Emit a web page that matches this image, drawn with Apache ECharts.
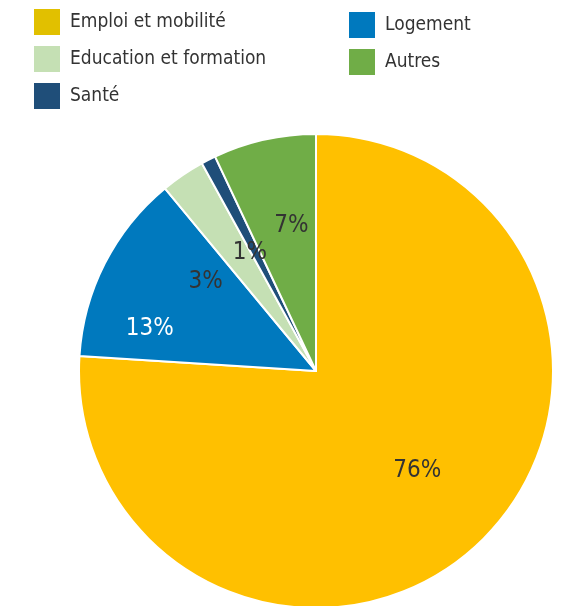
<!DOCTYPE html>
<html><head><meta charset="utf-8">
<script src="https://cdn.jsdelivr.net/npm/echarts@6/dist/echarts.min.js"></script>
<style>html,body{margin:0;padding:0;background:#fff}#c{width:570px;height:606px}</style>
</head><body><div id="c"></div>
<script>
const categories = ['Emploi et mobilité', 'Logement', 'Education et formation', 'Santé', 'Autres'];
const values = [76, 13, 3, 1, 7];
const sliceColors = ['#FFC000', '#0079BE', '#C5E0B4', '#1F4E79', '#70AD47'];
const legendColors = ['#E1C000', '#0079BE', '#C5E0B4', '#1F4E79', '#70AD47'];
const labelColors = ['#333333', '#ffffff', '#333333', '#333333', '#333333'];
const labelOffsets = [[18, 11], [-58, 13], [-42, 11], [-11, -10], [2, -27]];

const FONT = '"DejaVu Sans Condensed", "Liberation Sans Narrow", sans-serif';
const chart = echarts.init(document.getElementById('c'));
function legendData(names) {
  return names.map(n => ({ name: n, itemStyle: { color: legendColors[categories.indexOf(n)], borderWidth: 0 } }));
}
const legendCommon = {
  orient: 'vertical', itemWidth: 26, itemHeight: 26, itemGap: 11, icon: 'rect', padding: 0,
  itemStyle: { borderWidth: 0 },
  textStyle: { fontFamily: FONT, fontSize: 19, color: '#333', padding: [0, 0, 0, 5] },
  selectedMode: false
};
chart.setOption({
  animation: false,
  legend: [
    Object.assign({}, legendCommon, { left: 34, top: 9, data: legendData(['Emploi et mobilité', 'Education et formation', 'Santé']) }),
    Object.assign({}, legendCommon, { left: 349, top: 12, data: legendData(['Logement', 'Autres']) })
  ],
  series: [{
    type: 'pie',
    center: [316, 371],
    radius: 237,
    startAngle: 90,
    clockwise: true,
    silent: true,
    itemStyle: { borderColor: '#fff', borderWidth: 2 },
    label: { show: true, position: 'inside', fontFamily: FONT, fontSize: 24, formatter: '{c}%' },
    labelLine: { show: false },
    data: categories.map((n, i) => ({
      name: n, value: values[i],
      itemStyle: { color: sliceColors[i] },
      label: { color: labelColors[i], offset: labelOffsets[i] }
    }))
  }]
});
</script></body></html>
